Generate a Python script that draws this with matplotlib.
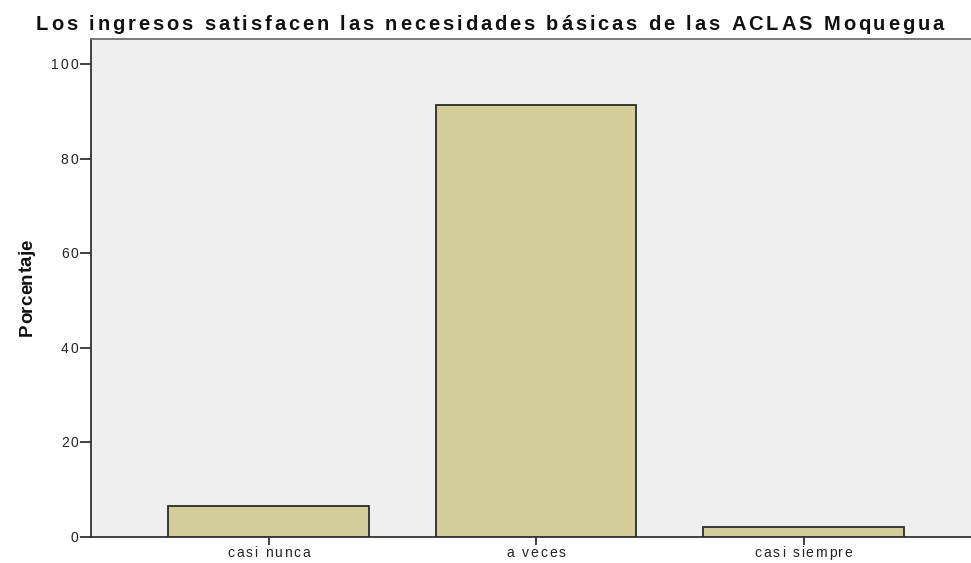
import matplotlib
matplotlib.use('Agg')
import matplotlib.pyplot as plt
import matplotlib.transforms as mtransforms
from matplotlib.font_manager import FontProperties, findfont, get_font
import numpy as np

# datos (porcentaje, n=46)
categorias = ['casi nunca', 'a veces', 'casi siempre']
porcentaje = [6.5, 91.3, 2.2]
ticks_y = [0, 20, 40, 60, 80, 100]

titulo = 'Los ingresos satisfacen las necesidades básicas de las ACLAS Moquegua'
etiqueta_y = 'Porcentaje'

plt.rcParams['font.family'] = ['Liberation Sans', 'DejaVu Sans']

fig = plt.figure(figsize=(9.71, 5.63), dpi=100)
W, H = 971, 563
ax = fig.add_axes([91 / W, 26 / H, 1 - 91 / W, 498 / H])
ax.set_facecolor('#efefef')


def avances(s, fp):
    font = get_font(findfont(fp))
    font.set_size(fp.get_size_in_points(), fig.dpi)
    return [font.load_char(ord(c)).linearHoriAdvance / 65536 for c in s]


# texto con espaciado entre letras (estilo SPSS), un Text por letra
def texto_esp(x, y, s, transform, fp, esp=0.0, ancho=None, ha='center',
              rot=0, ox=0.0, oy=0.0, color='#222222'):
    adv = avances(s, fp)
    if ancho is not None:
        esp = (ancho - sum(adv)) / (len(s) - 1)
    total = sum(adv) + esp * (len(s) - 1)
    pos = {'left': 0.0, 'center': -total / 2, 'right': -total}[ha]
    for c, a in zip(s, adv):
        if c != ' ':
            dx, dy = (pos, 0) if rot == 0 else (0, pos)
            tr = mtransforms.offset_copy(transform, fig=fig, x=dx + ox, y=dy + oy, units='dots')
            fig.text(x, y, c, transform=tr, fontproperties=fp, ha='left', va='baseline',
                     rotation=rot, rotation_mode='anchor', color=color)
        pos += a + esp


x = np.arange(1, len(categorias) + 1)
ax.bar(x, porcentaje, width=0.75, color='#d3ce97', edgecolor='#2b2b2b', linewidth=1.3, zorder=3)

ax.set_xlim(0.336, 3.626)
ax.set_ylim(0, 105.3)
ax.set_yticks(ticks_y)
ax.set_xticks(x)
ax.set_yticklabels([])
ax.set_xticklabels([])
ax.tick_params(axis='y', length=8, width=1.3, color='#333333')
ax.tick_params(axis='x', length=6, width=1.3, color='#333333')

for s in ['left', 'bottom']:
    ax.spines[s].set_linewidth(1.3)
    ax.spines[s].set_color('#333333')
ax.spines['top'].set_color('#707070')
ax.spines['top'].set_linewidth(1.3)
ax.spines['right'].set_visible(False)

# etiquetas de los ticks
fp_tick = FontProperties(family='Liberation Sans', size=10)
em = 10 * fig.dpi / 72
for t in ticks_y:
    texto_esp(0, t, str(t), ax.get_yaxis_transform(), fp_tick, esp=1.8, ha='right',
              ox=-13, oy=-0.36 * em)
for xi, cat in zip(x, categorias):
    texto_esp(xi, 0, cat, ax.get_xaxis_transform(), fp_tick, esp=1.8, ha='center', oy=-20)

# eje Y: fuente estrecha si existe
try:
    findfont(FontProperties(family='Liberation Sans Narrow'), fallback_to_default=False)
    fp_ylab = FontProperties(family='Liberation Sans Narrow', size=16, weight='bold')
except ValueError:
    fp_ylab = FontProperties(family='Liberation Sans', size=13.5, weight='bold')
texto_esp(32 / W, 1 - 288 / H, etiqueta_y, fig.transFigure, fp_ylab, ancho=96,
          ha='center', rot=90, color='#111111')

# titulo
fp_tit = FontProperties(family='Liberation Sans', size=14.5, weight='bold')
texto_esp(490 / W, 1 - 30 / H, titulo, fig.transFigure, fp_tit, ancho=908,
          ha='center', color='#111111')

fig.savefig('out.png', dpi=100)
